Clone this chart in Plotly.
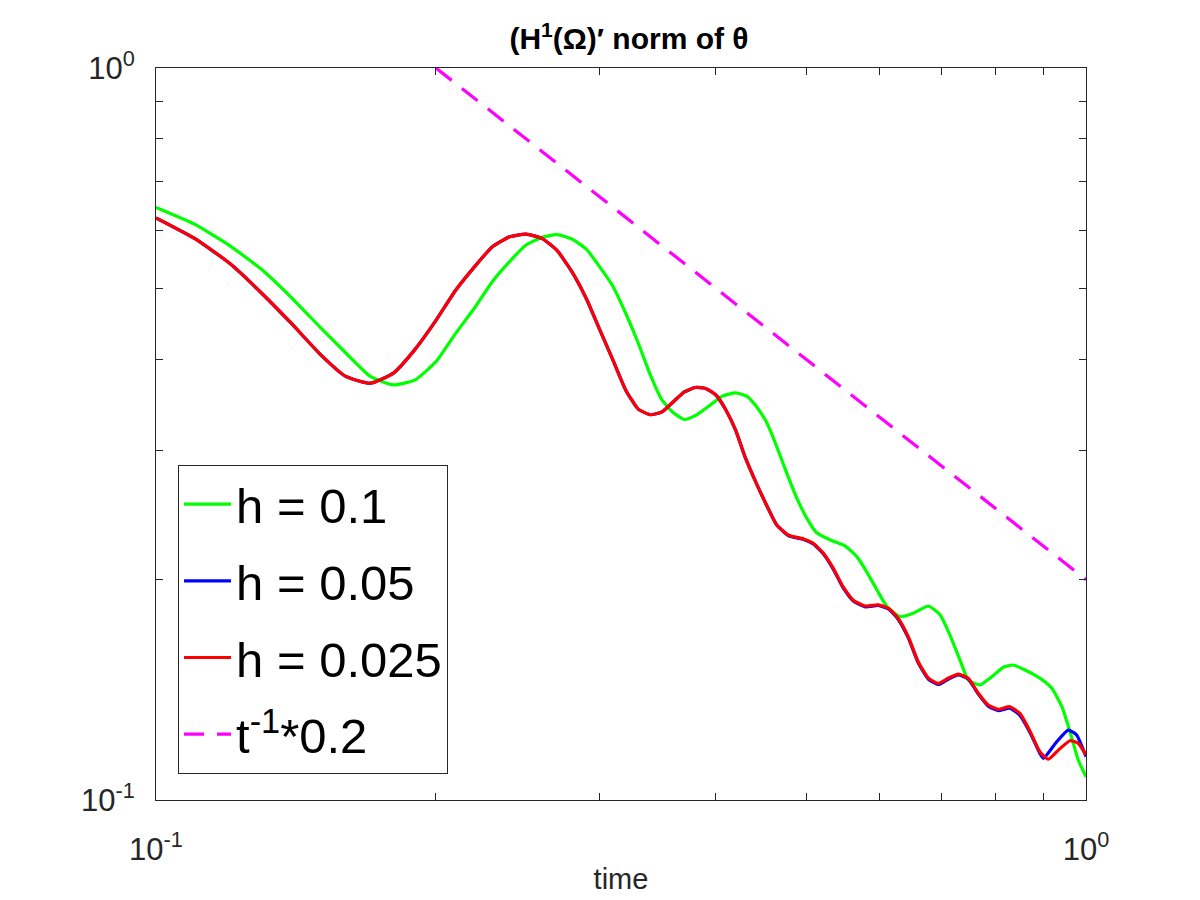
import plotly.graph_objects as go

# values (log-log plot)
t_h1 = [0.10, 0.11, 0.12, 0.13, 0.14, 0.15, 0.16, 0.17, 0.18, 0.19, 0.20, 0.21,
        0.22, 0.23, 0.24, 0.25, 0.26, 0.27, 0.28, 0.29, 0.30, 0.31, 0.32, 0.33,
        0.34, 0.35, 0.36, 0.37, 0.38, 0.394, 0.406, 0.420, 0.432, 0.442, 0.454,
        0.465, 0.477, 0.489, 0.501, 0.513, 0.531, 0.551, 0.567, 0.581, 0.596,
        0.611, 0.631, 0.652, 0.677, 0.697, 0.714, 0.732, 0.747, 0.769, 0.792,
        0.815, 0.835, 0.860, 0.892, 0.919, 0.942, 0.961, 0.981, 1.00]
v_h1 = [0.645, 0.612, 0.572, 0.530, 0.485, 0.443, 0.408, 0.379, 0.369, 0.375,
        0.397, 0.434, 0.470, 0.511, 0.544, 0.573, 0.587, 0.592, 0.584, 0.566,
        0.535, 0.503, 0.462, 0.421, 0.381, 0.352, 0.338, 0.331, 0.335, 0.346,
        0.356, 0.360, 0.356, 0.345, 0.327, 0.304, 0.279, 0.258, 0.2425, 0.232,
        0.2266, 0.2223, 0.215, 0.205, 0.1936, 0.1837, 0.178, 0.1799, 0.1841,
        0.179, 0.168, 0.1553, 0.1459, 0.1436, 0.1474, 0.1518, 0.1529, 0.1505,
        0.1467, 0.1421, 0.1341, 0.124, 0.1134, 0.1076]

t_h3 = [0.10, 0.11, 0.12, 0.13, 0.14, 0.15, 0.16, 0.17, 0.18, 0.19, 0.20, 0.21,
        0.22, 0.23, 0.24, 0.25, 0.26, 0.27, 0.28, 0.29, 0.30, 0.31, 0.32, 0.33,
        0.34, 0.35, 0.36, 0.37, 0.38, 0.39, 0.40, 0.41, 0.42, 0.43, 0.442, 0.454,
        0.465, 0.479, 0.497, 0.509, 0.522, 0.535, 0.548, 0.562, 0.579, 0.598,
        0.613, 0.628, 0.644, 0.660, 0.677, 0.694, 0.711, 0.729, 0.747, 0.766,
        0.785, 0.805, 0.828, 0.849, 0.871, 0.892, 0.911, 0.934, 0.961, 0.981, 1.00]
v_h3 = [0.624, 0.585, 0.541, 0.492, 0.447, 0.407, 0.379, 0.371, 0.383, 0.413,
        0.452, 0.497, 0.535, 0.570, 0.588, 0.593, 0.585, 0.563, 0.527, 0.485,
        0.439, 0.399, 0.363, 0.342, 0.336, 0.339, 0.350, 0.361, 0.366, 0.365,
        0.3575, 0.341, 0.320, 0.294, 0.271, 0.252, 0.2375, 0.230, 0.2273, 0.2242,
        0.2173, 0.2072, 0.1956, 0.1875, 0.1841, 0.1847, 0.1828, 0.1771, 0.1671,
        0.1545, 0.1467, 0.1443, 0.1467, 0.1486, 0.1467, 0.1399, 0.1348, 0.1330,
        0.1341, 0.1313, 0.1240, 0.1164, 0.1137, 0.1170, 0.1205, 0.1195, 0.1152]

t_h2 = t_h3[:61] + [0.892, 0.900, 0.930, 0.957, 0.977, 1.00]
v_h2 = [0.624, 0.585, 0.541, 0.492, 0.447, 0.407, 0.379, 0.371, 0.383, 0.413,
        0.452, 0.497, 0.535, 0.570, 0.588, 0.593, 0.585, 0.563, 0.527, 0.485,
        0.439, 0.399, 0.363, 0.342, 0.336, 0.339, 0.350, 0.361, 0.366, 0.365,
        0.3575, 0.341, 0.320, 0.294, 0.271, 0.252, 0.2375, 0.2295, 0.2270, 0.2238,
        0.2168, 0.2066, 0.1950, 0.1870, 0.1836, 0.1844, 0.1824, 0.1766, 0.1665,
        0.1540, 0.1462, 0.1438, 0.1462, 0.1482, 0.1463, 0.1395, 0.1343, 0.1325,
        0.1335, 0.1305, 0.1235, 0.1158, 0.1140, 0.1201, 0.1246, 0.1227, 0.1146]

t_ref = [0.2, 1.0]
v_ref = [1.0, 0.2]

names = ["h = 0.1", "h = 0.05", "h = 0.025", "t<sup>-1</sup>*0.2"]
colors = ["#00ff00", "#0000ff", "#ff0000", "#ff00ff"]
tick_text = ["10<sup>-1</sup>", "10<sup>0</sup>"]

ink = "#262626"
font = "Liberation Sans, Arial, sans-serif"

fig = go.Figure()
series = [(t_h1, v_h1), (t_h2, v_h2), (t_h3, v_h3)]
for i, (t, v) in enumerate(series):
    fig.add_trace(go.Scatter(x=t, y=v, mode="lines", name=names[i], legendgroup=str(i),
                             line=dict(color=colors[i], width=3.2, shape="spline", smoothing=0.5)))
fig.add_trace(go.Scatter(x=t_ref, y=v_ref, mode="lines", name=names[3], legendgroup="3",
                         line=dict(color=colors[3], width=3.2, dash="20px,13px")))

minor_vals = [0.2, 0.3, 0.4, 0.5, 0.6, 0.7, 0.8, 0.9]
axis_common = dict(
    type="log", range=[-1, 0], showgrid=False, zeroline=False,
    showline=True, linecolor=ink, linewidth=1, mirror="ticks",
    ticks="inside", ticklen=7, tickcolor=ink, tickwidth=1,
    tickmode="array", tickvals=[0.1, 1], ticktext=tick_text,
    tickfont=dict(family=font, size=31, color=ink),
    minor=dict(tickvals=minor_vals, ticks="inside", ticklen=7, tickcolor=ink, tickwidth=1),
)

fig.update_xaxes(**axis_common, ticklabelstandoff=22,
                 title=dict(text="time", font=dict(family=font, size=29, color=ink), standoff=2))
fig.update_yaxes(**axis_common, ticklabelstandoff=14)

fig.update_layout(
    width=1200, height=900,
    margin=dict(l=148, r=122, t=60, b=108),
    paper_bgcolor="white", plot_bgcolor="white",
    title=dict(text="<b>(H<sup>1</sup>(Ω)′ norm of θ</b>",
               x=0.5175, xanchor="center", y=0.966, yanchor="middle",
               font=dict(family=font, size=30, color="black")),
    legend=dict(x=0.0237, y=0.458, xanchor="left", yanchor="top",
                bgcolor="white", bordercolor=ink, borderwidth=1,
                font=dict(family=font, size=49, color="black"),
                itemwidth=47, tracegroupgap=10, traceorder="grouped"),
)

fig.write_html("out.html")
